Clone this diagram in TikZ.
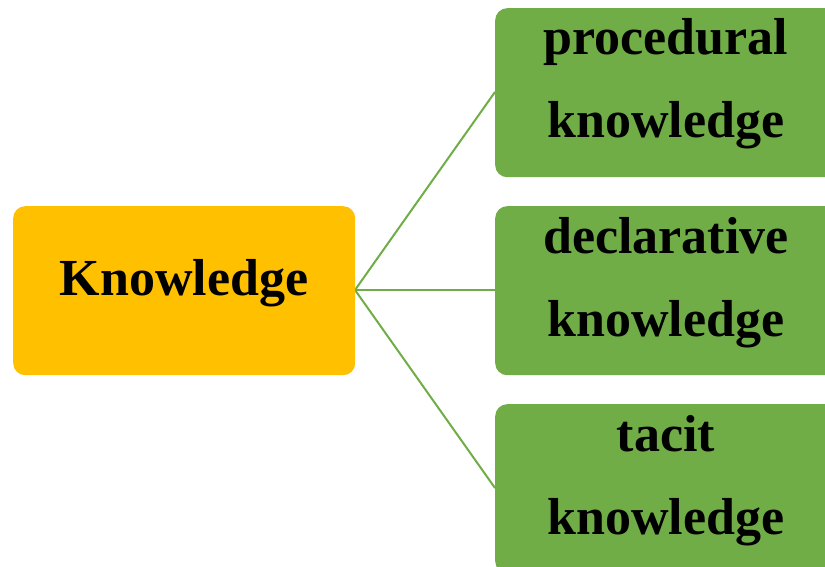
\documentclass[tikz,border=0pt]{standalone}
\usepackage{fontspec}
\setmainfont{Liberation Serif}
\begin{document}
\begin{tikzpicture}[x=1pt,y=-1pt,
  box/.style={rounded corners=12pt, minimum width=342pt, minimum height=169pt, inner sep=0pt, anchor=north west},
  rootbox/.style={box, fill=orangeK},
  leafbox/.style={box, fill=greenK},
  label/.style={anchor=base, inner sep=0pt, font=\fontsize{52}{60}\selectfont\bfseries},
  link/.style={draw=greenK, line width=2pt}]
\definecolor{orangeK}{HTML}{FFC000}
\definecolor{greenK}{HTML}{70AD47}
\useasboundingbox (0,0) rectangle (825,567);
\clip (0,0) rectangle (825,567);
% branch lines
\coordinate (hub) at (355,290);
\coordinate (e1) at (495,92);
\coordinate (e2) at (495,290);
\coordinate (e3) at (495,488);
\draw[link] (hub) -- (e1);
\draw[link] (hub) -- (e2);
\draw[link] (hub) -- (e3);
% boxes
\node[rootbox] (root) at (13,206) {};
\node[leafbox] (b1) at (495,8) {};
\node[leafbox] (b2) at (495,206) {};
\node[leafbox] (b3) at (495,404) {};
% texts
\node[label] (t0) at (184,295) {Knowledge};
\node[label] (t1a) at (666,55) {procedural};
\node[label] (t1b) at (666,138) {knowledge};
\node[label] (t2a) at (666,253) {declarative};
\node[label] (t2b) at (666,336) {knowledge};
\node[label] (t3a) at (666,451) {tacit};
\node[label] (t3b) at (666,534) {knowledge};
\end{tikzpicture}
\end{document}
